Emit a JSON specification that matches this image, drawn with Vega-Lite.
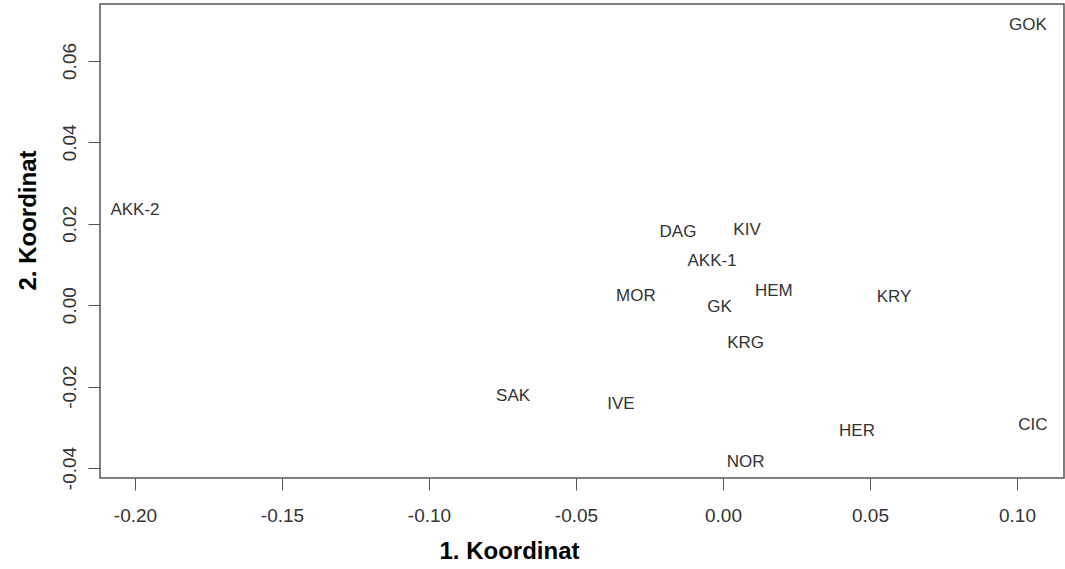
{
  "$schema": "https://vega.github.io/schema/vega-lite/v6.json",
  "width": 964,
  "height": 474,
  "autosize": "none",
  "padding": {"left": 100, "top": 4, "right": 1, "bottom": 91},
  "background": "white",
  "config": {
    "view": {"stroke": "#555555", "strokeWidth": 1.5},
    "font": "Liberation Sans"
  },
  "data": {
    "values": [
      {"label": "GOK", "x": 0.1037, "y": 0.0688},
      {"label": "AKK-2", "x": -0.2000, "y": 0.0234},
      {"label": "DAG", "x": -0.0153, "y": 0.0179},
      {"label": "KIV", "x": 0.0082, "y": 0.0184},
      {"label": "AKK-1", "x": -0.0037, "y": 0.0109},
      {"label": "MOR", "x": -0.0296, "y": 0.0023},
      {"label": "HEM", "x": 0.0173, "y": 0.0034},
      {"label": "GK", "x": -0.0012, "y": -0.0005},
      {"label": "KRY", "x": 0.0582, "y": 0.0021},
      {"label": "KRG", "x": 0.0077, "y": -0.0092},
      {"label": "SAK", "x": -0.0714, "y": -0.0222},
      {"label": "IVE", "x": -0.0347, "y": -0.0242},
      {"label": "HER", "x": 0.0456, "y": -0.0309},
      {"label": "CIC", "x": 0.1054, "y": -0.0294},
      {"label": "NOR", "x": 0.0077, "y": -0.0385}
    ]
  },
  "mark": {"type": "text", "fontSize": 17, "color": "#333333", "align": "center", "baseline": "middle", "font": "Liberation Sans"},
  "encoding": {
    "x": {
      "field": "x", "type": "quantitative",
      "scale": {"domain": [-0.2119, 0.1160], "nice": false, "zero": false},
      "axis": {
        "title": "1. Koordinat",
        "values": [-0.2, -0.15, -0.1, -0.05, 0, 0.05, 0.1],
        "labelExpr": "replace(format(datum.value, '.2f'), '\u2212', '-')",
        "grid": false, "domain": false,
        "tickColor": "#555555", "tickSize": 12, "tickWidth": 1,
        "labelFontSize": 19, "labelColor": "#333333", "labelPadding": 16,
        "labelFont": "Liberation Sans",
        "titleFontSize": 24, "titleFontWeight": "bold", "titleColor": "#000000",
        "titleFont": "Liberation Sans",
        "titleX": 409, "titleY": 73, "titleBaseline": "middle", "titleAlign": "center"
      }
    },
    "y": {
      "field": "y", "type": "quantitative",
      "scale": {"domain": [-0.04246, 0.0740], "nice": false, "zero": false},
      "axis": {
        "title": "2. Koordinat",
        "values": [-0.04, -0.02, 0, 0.02, 0.04, 0.06],
        "labelExpr": "replace(format(datum.value, '.2f'), '\u2212', '-')",
        "grid": false, "domain": false,
        "tickColor": "#555555", "tickSize": 12, "tickWidth": 1,
        "labelFontSize": 19, "labelColor": "#333333", "labelPadding": 13,
        "labelAngle": 270, "labelAlign": "center", "labelBaseline": "alphabetic",
        "labelFont": "Liberation Sans",
        "titleFontSize": 24, "titleFontWeight": "bold", "titleColor": "#000000",
        "titleFont": "Liberation Sans",
        "titleX": -72, "titleY": 216, "titleBaseline": "middle", "titleAlign": "center", "titleAngle": 270
      }
    },
    "text": {"field": "label"}
  }
}
